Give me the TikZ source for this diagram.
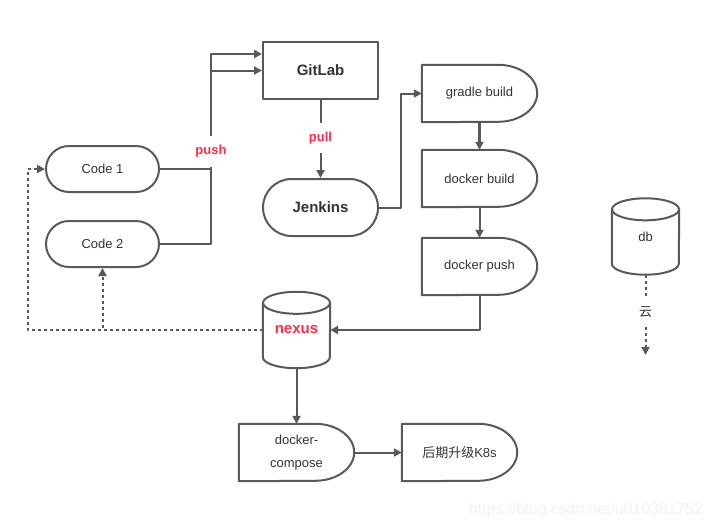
\documentclass[tikz,border=0pt]{standalone}
\usepackage{fontspec}
\setmainfont{Liberation Sans}
\newfontfamily\cjk{Noto Sans CJK SC}
\usetikzlibrary{shapes.misc,arrows.meta,calc}
\definecolor{lc}{HTML}{595959}
\definecolor{tc}{HTML}{333333}
\definecolor{rc}{HTML}{FF2D46}
\definecolor{wm}{HTML}{F1F1F1}
\newcommand\delayshape[1]{\draw[outl] (#1.north west) -- ([xshift=-39pt]#1.north east) arc[x radius=39pt,y radius=28.5pt,start angle=90,end angle=-90] -- (#1.south west) -- cycle;}
\newcommand\cylshape[1]{\draw[outl] ([yshift=-11pt]#1.north) ellipse[x radius=33.5pt,y radius=11pt];
  \draw[outl] ([yshift=-11pt]#1.north west) -- ([yshift=11pt]#1.south west) arc[x radius=33.5pt,y radius=11pt,start angle=180,end angle=360] -- ([yshift=-11pt]#1.north east);}
\begin{document}
\begin{tikzpicture}[x=1pt,y=1pt,line join=round,
  outl/.style={draw=lc,line width=2pt},
  base/.style={text=tc,font=\fontsize{13}{15}\selectfont,inner sep=0pt},
  boldt/.style={font=\fontsize{15}{17}\selectfont\bfseries},
  stadium/.style={base,rounded rectangle,outl,minimum height=46pt,minimum width=113pt},
  delay/.style={base,rectangle,minimum width=115pt,minimum height=57pt},
  cyl/.style={base,rectangle,minimum width=67pt,minimum height=76pt},
  lbl/.style={text=rc,font=\fontsize{13}{15}\selectfont\bfseries,inner sep=0pt,minimum width=40pt},
  ln/.style={draw=lc,line width=2pt},
  arr/.style={ln,-{Triangle[length=8pt,width=8pt]}},
  dsh/.style={ln,dash pattern=on 3pt off 3pt},
  darr/.style={dsh,-{Triangle[length=8pt,width=8pt]}}
]
\useasboundingbox (0,0) rectangle (712,-528);

\node[stadium] (code1) at (102.5,-169) {Code 1};
\node[stadium] (code2) at (102.5,-244) {Code 2};
\node[base,boldt,rectangle,outl,minimum width=115pt,minimum height=57pt] (gitlab) at (320.5,-70.5) {GitLab};
\node[stadium,boldt,minimum width=115pt,minimum height=57pt] (jenkins) at (320.5,-207.5) {Jenkins};

\node[delay] (gb) at (479.5,-93.5) {gradle build};
\delayshape{gb}
\node[delay] (dbuild) at (479.5,-178.5) {docker build};
\delayshape{dbuild}
\node[delay] (dpush) at (479.5,-266.5) {docker push};
\delayshape{dpush}
\node[delay,align=center,font=\fontsize{13}{23}\selectfont] (dc) at (296.5,-452.5) {docker-\\compose};
\delayshape{dc}
\node[delay] (k8s) at (459.5,-452.5) {{\cjk 后期升级}K8s};
\delayshape{k8s}

\node[cyl,boldt,text=rc] (nexus) at (296.5,-330) {nexus};
\cylshape{nexus}
\node[cyl] (db) at (645.5,-236.5) {db};
\cylshape{db}

\node[lbl,minimum height=31pt] (push) at (211,-151.5) {push};
\node[lbl,minimum height=30pt] (pull) at (320.5,-138) {pull};
\node[base,minimum height=29pt] (yun) at (645.5,-312.5) {\cjk 云};
\coordinate (cloudend) at (645.5,-355);
\coordinate (g1) at ($(gitlab.north west)+(0,-13)$);

\draw[ln] (code1.east) -| (push.south);
\draw[ln] (code2.east) -| (push.south);
\draw[arr] (push.north) |- (g1);
\draw[arr] (push.north) |- (gitlab.west);
\draw[ln] (gitlab.south) -- (pull.north);
\draw[arr] (pull.south) -- (jenkins.north);
\draw[arr] (jenkins.east) -- ($(jenkins.east)+(22,0)$) |- (gb.west);
\draw[arr,line width=2.3pt] (gb.south) -- (dbuild.north);
\draw[arr] (dbuild.south) -- (dpush.north);
\draw[arr] (dpush.south) |- (nexus.east);
\draw[darr] (nexus.west) -| ($(code1.west)+(-17,0)$) -- (code1.west);
\draw[darr] (nexus.west) -| (code2.south);
\draw[arr] (nexus.south) -- (dc.north);
\draw[arr] (dc.east) -- (k8s.west);
\draw[dsh] (db.south) -- (yun.north);
\draw[darr] (yun.south) -- (cloudend);

\node[font=\fontsize{15.8}{18}\selectfont,text=wm,inner sep=0pt] (wmark) at (586,-510) {https://blog.csdn.net/u010381752};
\end{tikzpicture}
\end{document}
